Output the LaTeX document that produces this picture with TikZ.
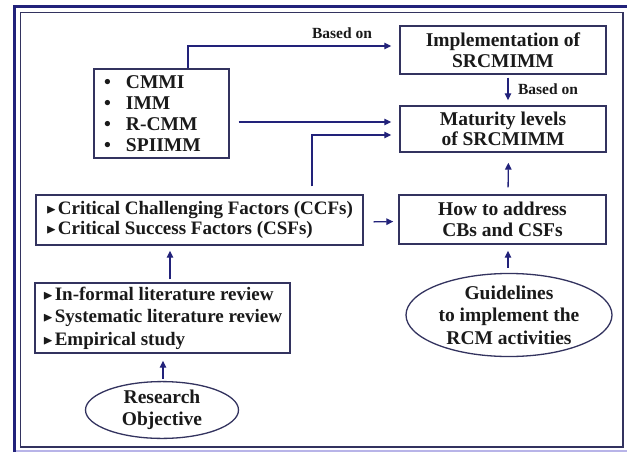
\documentclass[tikz,border=0pt]{standalone}
\usepackage{fontspec}
\usepackage{amssymb}
\setmainfont{Liberation Serif}
\usetikzlibrary{arrows.meta,shapes.geometric,calc}
\definecolor{navy}{HTML}{22227A}
\definecolor{boxline}{HTML}{33335F}
\definecolor{txt}{HTML}{1A1A1A}
\definecolor{lav}{HTML}{B8B4E8}
\newcommand{\tri}{\raisebox{0.1ex}{\scalebox{0.7}{$\blacktriangleright$}}\hspace{1.5pt}}
\newcommand{\bul}{\makebox[22pt][l]{\textbullet}}
\tikzset{
  box/.style={draw=boxline, line width=1.4pt, inner sep=0pt, text=txt,
    font=\bfseries\fontsize{19.5}{20.5}\selectfont, align=center},
  oval/.style={ellipse, draw=boxline, line width=1.3pt, inner sep=0pt, text=txt,
    font=\bfseries\fontsize{19.5}{22.5}\selectfont, align=center},
  arr/.style={draw=navy, line width=1.3pt, -{Triangle[length=7pt,width=6.5pt]}},
  lab/.style={text=txt, font=\bfseries\fontsize{15.5}{18}\selectfont, inner sep=0pt}
}
\begin{document}
\begin{tikzpicture}[x=1pt,y=-1pt]
\useasboundingbox (0,0) rectangle (627,453);
% frame
\fill[white] (0,0) rectangle (627,453);
\draw[lav, line width=2pt] (627,451) -- (14.5,451);
\draw[navy, line width=3pt] (14.5,452) -- (14.5,6) -- (627,6);
\draw[boxline, line width=1.4pt] (20.5,12.5) rectangle (623,447);
% nodes
\node[box, minimum width=135pt, minimum height=89pt, text width=115pt, align=left,
  font=\bfseries\fontsize{19.5}{21}\selectfont] (list) at (161.5,113.5)
  {\bul CMMI\\\bul IMM\\\bul R-CMM\\\bul SPIIMM};
\node[box, minimum width=206pt, minimum height=48pt] (impl) at (503,50) {Implementation of\\SRCMIMM};
\node[box, minimum width=206pt, minimum height=46pt] (mat) at (503,129) {Maturity levels\\of SRCMIMM};
\node[box, minimum width=207pt, minimum height=49pt] (how) at (502.5,219.5) {How to address\\CBs and CSFs};
\node[box, minimum width=327pt, minimum height=50pt, align=left,
  font=\bfseries\fontsize{19}{20.5}\selectfont] (ccf) at (199.5,220)
  {\tri Critical Challenging Factors (CCFs)\\\tri Critical Success Factors (CSFs)};
\node[box, minimum width=255pt, minimum height=70pt, align=left,
  font=\bfseries\fontsize{19}{22.5}\selectfont] (lit) at (162.5,318)
  {\tri In-formal literature review\\\tri Systematic literature review\\\tri Empirical study};
\node[oval, minimum width=153pt, minimum height=50pt] (res) at (162,410) {Research\\Objective};
\node[oval, minimum width=206pt, minimum height=76pt] (guide) at (509,315) {Guidelines\\to implement the\\RCM activities};
% labels
\node[lab] (b1) at (342,33) {Based on};
\node[lab] (b2) at (548,89) {Based on};
% connectors
\draw[arr, shorten >=8pt] ([xshift=26.5pt]list.north) |- ([yshift=4pt]impl.west);
\draw[arr, shorten <=3pt, shorten >=5pt] ([xshift=5pt]impl.south) -- ([xshift=5pt]mat.north);
\draw[arr, shorten <=9pt, shorten >=8pt] (list.east |- 0,122) -- (mat.west |- 0,122);
\draw[arr, shorten <=8pt, shorten >=8pt] ([xshift=112.5pt]ccf.north) |- ([yshift=-6pt]mat.west);
\draw[arr, shorten <=10pt, shorten >=5pt] ([yshift=-2pt]ccf.east) -- ([yshift=-2pt]how.west);
\draw[arr, shorten <=7pt, shorten >=10pt] ([xshift=5.5pt]how.north) -- ([xshift=5.5pt]mat.south);
\draw[arr, shorten <=5pt, shorten >=6pt] ([xshift=-1pt]guide.north) -- ([xshift=5.5pt]how.south);
\draw[arr, shorten <=3pt, shorten >=5pt] ([xshift=7.5pt]lit.north) -- ([xshift=-29.5pt]ccf.south);
\draw[arr, shorten <=2pt, shorten >=7pt] ([xshift=1pt]res.north) -- ([xshift=0.5pt]lit.south);
\end{tikzpicture}
\end{document}
